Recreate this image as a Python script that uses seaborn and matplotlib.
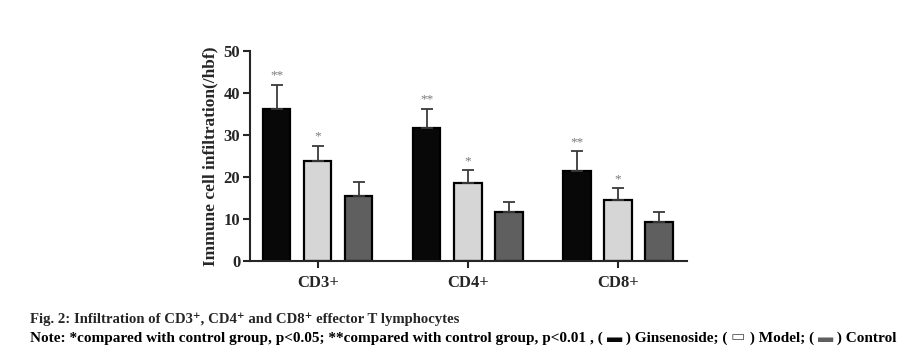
import pandas as pd
import matplotlib.pyplot as plt
import seaborn as sns

# values
cells = ["CD3+", "CD4+", "CD8+"]
groups = ["Ginsenoside", "Model", "Control"]
ginsenoside = [36.1, 31.7, 21.4]
model = [23.9, 18.5, 14.5]
control = [15.5, 11.6, 9.2]
ginsenoside_err = [5.8, 4.6, 4.7]
model_err = [3.5, 3.1, 2.8]
control_err = [3.4, 2.4, 2.5]
stars = {"Ginsenoside": "**", "Model": "*", "Control": ""}

df = pd.DataFrame({
    "cell": cells * 3,
    "group": [g for g in groups for _ in cells],
    "value": ginsenoside + model + control,
    "err": ginsenoside_err + model_err + control_err,
})

sns.set_style("ticks")
plt.rcParams["font.family"] = ["Liberation Serif", "DejaVu Serif"]
plt.rcParams["font.weight"] = "bold"

fig = plt.figure(figsize=(9.17, 3.58), dpi=100)
ax = fig.add_axes([0.2726, 0.271, 0.4766, 0.5865])

palette = {"Ginsenoside": "#080808", "Model": "#d6d6d6", "Control": "#5f5f5f"}
sns.barplot(data=df, x="cell", y="value", hue="group", hue_order=groups,
            order=cells, palette=palette, errorbar=None, width=0.82, gap=0.34,
            edgecolor="black", linewidth=1.6, legend=False, ax=ax)

# one-sided error bars and significance stars, placed on the bars seaborn drew
for container, g in zip(ax.containers, groups):
    sub = df[df["group"] == g].set_index("cell").loc[cells]
    for bar, (v, e) in zip(container, zip(sub["value"], sub["err"])):
        xc = bar.get_x() + bar.get_width() / 2
        ax.errorbar(xc, v, yerr=[[0], [e]], fmt="none", ecolor="#3a3a3a",
                    elinewidth=1.3, capsize=4, capthick=1.3, zorder=1)
        if stars[g]:
            ax.text(xc, v + e + 0.8, stars[g], ha="center", va="bottom",
                    fontsize=9.5, color="#7a7a7a", fontweight="normal")

ax.set_xlim(-0.453, 2.46)
ax.set_ylim(0, 50)
ax.set_yticks([0, 10, 20, 30, 40, 50])
ax.set_xlabel("")
ax.set_ylabel("Immune cell infiltration(/hbf)", fontsize=12.5, fontweight="bold",
              labelpad=4)
ax.tick_params(axis="both", width=1.5, length=5, labelsize=12, pad=2)
ax.tick_params(axis="x", pad=5)
for lab in ax.get_xticklabels() + ax.get_yticklabels():
    lab.set_fontweight("bold")
for side in ["left", "bottom"]:
    ax.spines[side].set_linewidth(1.5)
sns.despine(ax=ax)

# caption below the chart
fig.text(30 / 917, 1 - 319 / 358, "Fig. 2: Infiltration of CD3\u207a, CD4\u207a and CD8\u207a effector T lymphocytes",
         fontsize=10.6, fontweight="bold", va="center", ha="left")

# note line, drawn piece by piece so the small legend boxes can be coloured
pieces = [
    ("Note: *compared with control group, p<0.05; **compared with control group, p<0.01 , ( ", "black"),
    ("\u25ac", "#080808"),
    (" ) Ginsenoside; ( ", "black"),
    ("\u25ad", "#555555"),
    (" ) Model; ( ", "black"),
    ("\u25ac", "#5f5f5f"),
    (" ) Control", "black"),
]
fig.canvas.draw()
renderer = fig.canvas.get_renderer()
x = 30
for s, c in pieces:
    t = fig.text(x / 917, 1 - 338 / 358, s, fontsize=11, fontweight="bold",
                 color=c, va="center", ha="left")
    x = t.get_window_extent(renderer).x1

fig.savefig("out.png", dpi=100)
